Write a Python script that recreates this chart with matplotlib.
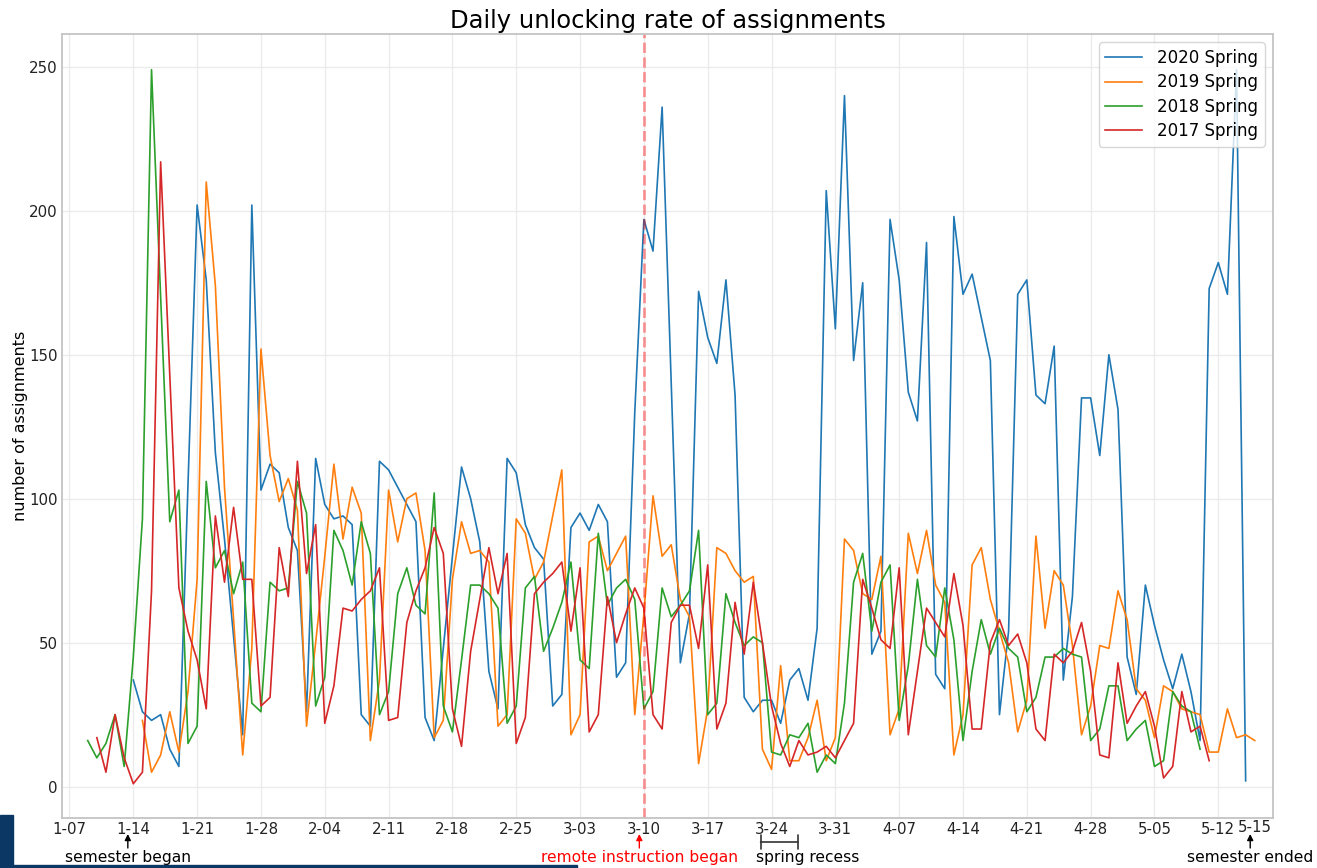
import matplotlib
matplotlib.use("Agg")
import matplotlib.pyplot as plt
import matplotlib.dates as mdates
import pandas as pd

# daily count of unlocked assignments, one value per day from each semester's first day
spring_2020 = [37, 26, 23, 25, 13, 7, 105, 202, 176, 116, 86, 52, 18, 202, 103, 112, 109, 90, 82, 26,
               114, 98, 93, 94, 91, 25, 21, 113, 110, 104, 98, 92, 24, 16, 48, 80, 111, 100, 85, 40,
               27, 114, 109, 91, 83, 79, 28, 32, 90, 95, 89, 98, 92, 38, 43, 130, 197, 186, 236, 140,
               43, 60, 172, 156, 147, 176, 136, 31, 26, 30, 30, 22, 37, 41, 30, 55, 207, 159, 240, 148,
               175, 46, 54, 197, 176, 137, 127, 189, 39, 34, 198, 171, 178, 163, 148, 25, 54, 171, 176, 136,
               133, 153, 37, 66, 135, 135, 115, 150, 131, 45, 32, 70, 56, 44, 34, 46, 33, 16, 173, 182,
               171, 249, 2]
spring_2019 = [23, 5, 11, 26, 12, 33, 72, 210, 174, 104, 58, 11, 48, 152, 115, 99, 107, 96, 21, 50,
               80, 112, 86, 104, 95, 16, 37, 103, 85, 100, 102, 82, 17, 23, 72, 92, 81, 82, 78, 21,
               25, 93, 88, 72, 78, 94, 110, 18, 25, 85, 87, 75, 81, 87, 25, 60, 101, 80, 84, 65,
               59, 8, 27, 83, 81, 75, 71, 73, 13, 6, 42, 9, 9, 17, 30, 9, 17, 86, 82, 67,
               65, 80, 18, 27, 88, 74, 89, 70, 64, 11, 25, 77, 83, 65, 54, 43, 19, 30, 87, 55,
               75, 70, 49, 18, 28, 49, 48, 68, 58, 34, 30, 17, 35, 33, 27, 26, 25, 12, 12, 27,
               17, 18, 16]
spring_2018 = [16, 10, 15, 25, 7, 45, 93, 249, 170, 92, 103, 15, 21, 106, 76, 82, 67, 78, 29, 26,
               71, 68, 69, 106, 95, 28, 38, 89, 82, 70, 92, 81, 25, 33, 67, 76, 63, 60, 102, 28,
               19, 44, 70, 70, 67, 62, 22, 28, 69, 73, 47, 55, 64, 78, 44, 41, 88, 63, 69, 72,
               65, 27, 33, 69, 59, 63, 68, 89, 25, 29, 67, 57, 49, 52, 50, 12, 11, 18, 17, 22,
               5, 11, 8, 29, 71, 81, 54, 71, 77, 23, 42, 72, 49, 45, 69, 51, 16, 40, 58, 46,
               55, 48, 45, 26, 31, 45, 45, 48, 46, 45, 16, 20, 35, 35, 16, 20, 23, 7, 9, 33,
               28, 26, 13]
spring_2017 = [17, 5, 25, 10, 1, 5, 68, 217, 143, 69, 54, 44, 27, 94, 71, 97, 72, 72, 28, 31,
               83, 66, 113, 74, 91, 22, 35, 62, 61, 65, 68, 76, 23, 24, 57, 68, 76, 90, 81, 27,
               14, 47, 65, 83, 67, 81, 15, 24, 67, 71, 74, 78, 54, 76, 19, 25, 66, 50, 60, 69,
               62, 25, 20, 57, 63, 63, 48, 77, 20, 29, 64, 46, 71, 50, 28, 15, 7, 16, 11, 12,
               14, 10, 16, 22, 72, 62, 51, 48, 76, 18, 40, 62, 57, 52, 74, 56, 20, 20, 50, 58,
               49, 53, 43, 20, 16, 46, 43, 47, 57, 40, 11, 10, 43, 22, 28, 33, 21, 3, 7, 33,
               19, 21, 9]

labels = ["2020 Spring", "2019 Spring", "2018 Spring", "2017 Spring"]
series = [spring_2020, spring_2019, spring_2018, spring_2017]
# first day of each series, mapped onto the 2020 calendar
start_dates = ["2020-01-14", "2020-01-15", "2020-01-09", "2020-01-10"]
colors = ["tab:blue", "tab:orange", "tab:green", "tab:red"]

tick_dates = pd.date_range("2020-01-07", "2020-05-12", freq="7D")
tick_labels = [f"{d.month}-{d.day:02d}" for d in tick_dates]

remote_date = pd.Timestamp("2020-03-10")

plt.rcParams["font.family"] = ["DejaVu Sans"]
fig = plt.figure(figsize=(13.17, 8.68), dpi=100)
ax = fig.add_axes([62 / 1317, 50 / 868, 1211 / 1317, 784 / 868])

for values, start, label, color in zip(series, start_dates, labels, colors):
    days = pd.date_range(start, periods=len(values), freq="D")
    ax.plot(mdates.date2num(days), values, color=color, lw=1.2, label=label)

t0 = mdates.date2num(pd.Timestamp("2020-01-07"))
ax.axvline(mdates.date2num(remote_date), color="red", alpha=0.4, ls="--", lw=2)

ax.set_xlim(t0 - 0.82, t0 + 132.0)
ax.set_ylim(-10.9, 261.4)
ax.set_xticks(mdates.date2num(tick_dates))
ax.set_xticklabels(tick_labels)
ax.set_yticks([0, 50, 100, 150, 200, 250])
ax.tick_params(length=0, labelsize=10.8, pad=3, colors="#222222")
ax.grid(True, color="#ebebeb", lw=1)
for s in ax.spines.values():
    s.set_color("#c4c4c4")
    s.set_linewidth(1.3)

ax.set_title("Daily unlocking rate of assignments", fontsize=17.5, pad=4)
ax.set_ylabel("number of assignments", fontsize=11.5, labelpad=1)
ax.legend(loc="upper right", fontsize=12, handlelength=2.2, labelspacing=0.38,
          handletextpad=0.9)

# annotations below the date axis
trans = ax.get_xaxis_transform()
px = 1 / 784
notes = [("semester began", t0 + 6.4, "black"),
         ("remote instruction began", t0 + 62.5, "red"),
         ("semester ended", t0 + 129.5, "black")]
for text, x, c in notes:
    ax.annotate("", xy=(x, -16 * px), xytext=(x, -30 * px), xycoords=trans, textcoords=trans,
                annotation_clip=False,
                arrowprops=dict(arrowstyle="-|>", color=c, lw=1, mutation_scale=9,
                                shrinkA=0, shrinkB=0))
    ax.text(x, -44 * px, text, color=c, fontsize=11.2, ha="center", va="baseline",
            transform=trans, clip_on=False)

ax.text(t0 + 130, -10 * px, "5-15", fontsize=10.8, ha="center", va="center", color="#222222",
        transform=trans, clip_on=False)

ax.annotate("", xy=(t0 + 75.8, -24 * px), xytext=(t0 + 79.9, -24 * px), xycoords=trans,
            textcoords=trans, annotation_clip=False,
            arrowprops=dict(arrowstyle="|-|,widthA=0.5,widthB=0.5", color="#333333", lw=1.2,
                            mutation_scale=10, shrinkA=0, shrinkB=0))
ax.text(t0 + 75.3, -44 * px, "spring recess", fontsize=11.2, ha="left", va="baseline",
        transform=trans, clip_on=False)

# dark strip along the lower left edge of the screenshot
fig.patches.append(plt.Rectangle((0, 0), 13 / 1317, 53 / 868, transform=fig.transFigure,
                                 color="#0b3765", zorder=-1))
fig.patches.append(plt.Rectangle((0, 0), 577 / 1317, 3 / 868, transform=fig.transFigure,
                                 color="#0b3765", zorder=-1))

fig.savefig("out.png", dpi=100)
